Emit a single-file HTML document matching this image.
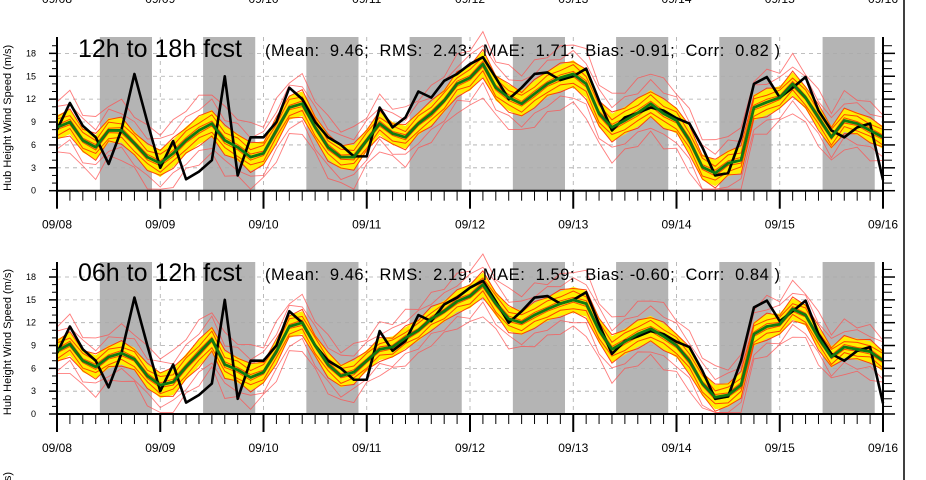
<!DOCTYPE html>
<html><head><meta charset="utf-8">
<style>
html,body{margin:0;padding:0;background:#fff;}
svg{display:block;font-family:"Liberation Sans",sans-serif;}
</style></head>
<body>
<svg id="chart" width="926" height="480" viewBox="0 0 926 480" xmlns="http://www.w3.org/2000/svg">
<rect width="926" height="480" fill="#fff"/>
<line x1="904" y1="0" x2="904" y2="480" stroke="#000" stroke-width="1.5"/>
</svg>
<script>
// ---- data ----
const dayLabels = ["09/08","09/09","09/10","09/11","09/12","09/13","09/14","09/15","09/16"];
const yTicks = [0,3,6,9,12,15,18];
const obs = [8,11.5,8.5,7,3.5,8,15.3,9,
  3,6.5,1.5,2.5,4,15,2,7,
  7,9,13.5,12,9,7,6,4.5,
  4.5,10.9,8.3,9.6,13,12.2,14.4,15.3,
  16.6,17.5,14.8,12,13.5,15.3,15.5,14.5,
  15,16,11.8,7.9,9.6,10.2,10.9,10.5,
  9.5,8.8,5.7,2,2.3,7,14,14.9,
  12.2,13.5,14.9,10.5,7.9,7,8.3,8.8,1.4];
const meanTop = [8.3,9,6.6,5.7,7.9,7.9,6.2,4.4,
  3.6,4.9,6.6,7.9,8.8,6.6,5.7,4.4,
  4.9,7.9,10.9,11.4,8.3,5.7,4.4,4.4,
  6.6,8.8,7.5,7,8.8,10.1,11.8,14,
  14.8,16.6,13.5,12.2,11.4,12.7,14,14.8,
  15.3,14,10.1,8.3,9.2,10.2,11.4,10.1,
  9.2,6.6,3.1,2.3,3.6,4,10.9,11.6,
  12.2,14,12.2,9.6,7,9.2,8.8,7.9,7];
const meanBot = [8.3,9.2,7,6.2,7.5,8,7.2,5,
  3.8,4.2,6.2,8,9.8,6.5,5.8,4.8,
  5.5,8.2,11.5,12,9,6.5,5,5.5,
  7,8.5,8.8,10,11,12.5,13.5,14.8,
  15.5,17,14.5,12.5,12,13,13.8,14.5,
  15,14.5,11,8.5,9.5,10.5,11.2,10.2,
  9,7,4,2.2,2.5,3.8,10.5,11.5,
  11.8,13.8,13,10,7.5,8.8,8.5,8.2,7];
const spreadTop = [1.6,1.8,1.6,1.5,1.7,1.8,1.7,1.5];
const spreadBot = [1.5,1.7,1.5,1.4,1.6,1.7,1.6,1.4];
const memberOffsets = [-2.3,-1.6,-1.0,-0.6,-0.2,0.2,0.6,1.0,1.6,2.3];
const memberWobble = [0.35,-0.3,0.25,-0.4,0.3,-0.2,0.4,-0.35,0.2,-0.25];
// ---- layout ----
const svg = document.getElementById('chart');
const NS = 'http://www.w3.org/2000/svg';
const X0 = 57, X1 = 883;
function xs(t){ return X0 + (X1 - X0) * t / 8; }
const panels = [
  {top:37, y0:190.7, k:7.63, mean:meanTop, spread:spreadTop, name:'top', title:'12h to 18h fcst', stats:'(Mean:  9.46;  RMS:  2.43;  MAE:  1.71;  Bias: -0.91;  Corr:  0.82 )', tb:57},
  {top:262, y0:414, k:7.61, mean:meanBot, spread:spreadBot, name:'bottom', title:'06h to 12h fcst', stats:'(Mean:  9.46;  RMS:  2.19;  MAE:  1.59;  Bias: -0.60;  Corr:  0.84 )', tb:281}
];
function mk(tag, attrs, parent){
  const e = document.createElementNS(NS, tag);
  for (const k in attrs) e.setAttribute(k, attrs[k]);
  (parent || svg).appendChild(e);
  return e;
}
dayLabels.forEach((d,i)=>{
  const t = mk('text',{x:xs(i),y:3,'text-anchor':'middle','font-size':12,fill:'#000'});
  
  
  t.textContent = d;
});
const ct = mk('text',{x:0,y:0,transform:'translate(11,497) rotate(-90)','font-size':11,fill:'#000'});


ct.textContent = '(m/s)';

panels.forEach(p=>{
  const g = mk('g',{});
  
  
  const ys = v => p.y0 - p.k * v;
  for (let d=0; d<8; d++){
    const r = mk('rect',{x:xs(d+0.415),y:p.top,width:xs(d+0.92)-xs(d+0.415),height:p.y0-p.top,fill:'#b4b4b4'},g);
    
    
  }
  yTicks.forEach(v=>{ if(v>0){
    const l = mk('line',{x1:X0,x2:X1,y1:ys(v),y2:ys(v),stroke:'#aaa','stroke-dasharray':'4,4','stroke-width':0.8},g);
    
    
  }});
  for (let d=1; d<8; d++){
    const l = mk('line',{x1:xs(d),x2:xs(d),y1:p.top,y2:p.y0,stroke:'#aaa','stroke-dasharray':'4,4','stroke-width':0.8},g);
    
    
  }
  const n = p.mean.length;
  const tAt = i => i / 8;
  const sp = i => p.spread[Math.min(7, Math.floor(i/8))];
  let up = [], lo = [];
  for (let i=0;i<n;i++){ up.push(xs(tAt(i))+','+ys(p.mean[i]+sp(i))); lo.unshift(xs(tAt(i))+','+ys(Math.max(0,p.mean[i]-sp(i)))); }
  const band = mk('polygon',{points:up.concat(lo).join(' '),fill:'#ffee00'},g);
  
  
  memberOffsets.forEach((o,m)=>{
    const pts = [];
    for (let i=0;i<n;i++){
      const w = memberWobble[(i+m)%memberWobble.length];
      const v = Math.max(0.2, p.mean[i] + o*sp(i) + w*Math.abs(o)*0.6);
      pts.push(xs(tAt(i))+','+ys(v));
    }
    const outer = Math.abs(o) > 1.5;
    const pl = mk('polyline',{points:pts.join(' '),fill:'none',stroke: outer ? '#ff5050' : '#ff3300','stroke-width':outer?0.9:1,'stroke-opacity':outer?0.75:0.9},g);
    
    
  });
  const op = obs.map((v,i)=>xs(tAt(i))+','+ys(v)).join(' ');
  const ol = mk('polyline',{points:op,fill:'none',stroke:'#000','stroke-width':2.6,'stroke-linejoin':'round'},g);
  
  
  const mp = p.mean.map((v,i)=>xs(tAt(i))+','+ys(v)).join(' ');
  const ml = mk('polyline',{points:mp,fill:'none',stroke:'#117a11','stroke-width':2.8,'stroke-linejoin':'round'},g);
  
  
  const ax = mk('path',{d:`M${X0},${p.top}V${p.y0}H${X1}V${p.top}`,fill:'none',stroke:'#000','stroke-width':2},g);
  
  
  for (let v=0; v<=19; v++){
    const major = v%3===0;
    const len = major?8:5;
    mk('line',{x1:X0-len,x2:X0,y1:ys(v),y2:ys(v),stroke:'#000','stroke-width':major?1.5:1},g);
    mk('line',{x1:X1,x2:X1+len+4,y1:ys(v),y2:ys(v),stroke:'#000','stroke-width':major?1.5:1},g);
  }
  yTicks.forEach(v=>{
    const t = mk('text',{x:36,y:ys(v)+3,'text-anchor':'end','font-size':9,fill:'#000'},g);
    
    
    t.textContent = v;
  });
  for (let i=0;i<=64;i++){
    const major = i%8===0;
    mk('line',{x1:xs(i/8),x2:xs(i/8),y1:p.y0,y2:p.y0+(major?18:10),stroke:'#000','stroke-width':major?2:1},g);
  }
  dayLabels.forEach((d,i)=>{
    const t = mk('text',{x:xs(i),y:p.y0+38,'text-anchor':'middle','font-size':12,fill:'#000'},g);
    
    
    t.textContent = d;
  });
  const yt = mk('text',{x:0,y:0,transform:`translate(11,${(p.top+p.y0)/2+4}) rotate(-90)`,'text-anchor':'middle','font-size':11,fill:'#000'},g);
  
  
  yt.textContent = 'Hub Height Wind Speed (m/s)';
  const tt = mk('text',{x:78,y:p.tb,'font-size':25,fill:'#000'},g);
  
  
  tt.textContent = p.title;
  const st = mk('text',{x:265,y:p.tb-1,'font-size':16.5,fill:'#000',textLength:515,lengthAdjust:'spacing'},g);
  
  
  st.style.whiteSpace = 'pre';
  st.textContent = p.stats;
});
</script>
</body></html>
